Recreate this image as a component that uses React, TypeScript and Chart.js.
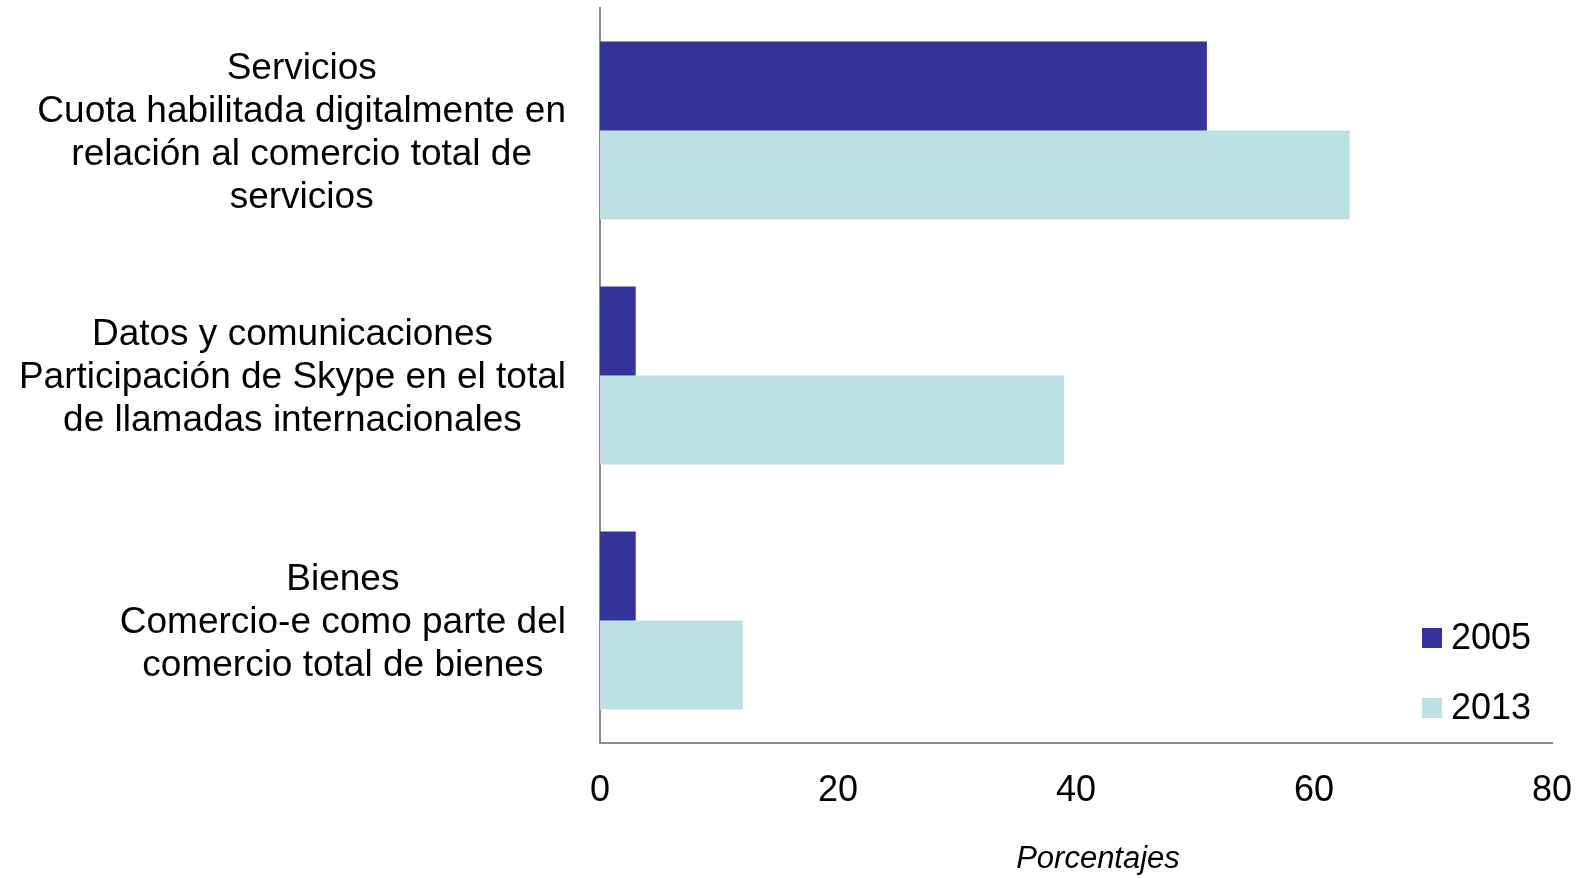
import React, { useEffect, useRef } from "react";
import { Chart, registerables } from "chart.js";

Chart.register(...registerables);

const categoryLines: string[][] = [
  ["Servicios", "Cuota habilitada digitalmente en", "relación al comercio total de", "servicios"],
  ["Datos y comunicaciones", "Participación de Skype en el total", "de llamadas internacionales"],
  ["Bienes", "Comercio-e como parte del", "comercio total de bienes"],
];
const categories: string[] = ["Servicios", "Datos y comunicaciones", "Bienes"];
const series2005: number[] = [51, 3, 3];
const series2013: number[] = [63, 39, 12];
const seriesNames: string[] = ["2005", "2013"];
const seriesColors: string[] = ["#343399", "#BCE0E3"];
const xTicks: number[] = [0, 20, 40, 60, 80];
const axisTitle = "Porcentajes";

const FONT = '"Liberation Sans", Arial, sans-serif';

const customPlugin = {
  id: "customDecor",
  afterDraw(chart: any) {
    const ctx = chart.ctx;
    const area = chart.chartArea;
    const yScale = chart.scales.y;
    ctx.save();
    ctx.fillStyle = "#000";
    // category labels
    ctx.font = `37px ${FONT}`;
    ctx.textAlign = "center";
    ctx.textBaseline = "middle";
    const lineH = 42.9;
    const rightEdge = area.left - 34;
    categoryLines.forEach((lines, i) => {
      const cy = yScale.getPixelForValue(i) + 2.5;
      let maxW = 0;
      lines.forEach((l) => {
        maxW = Math.max(maxW, ctx.measureText(l).width);
      });
      const cx = rightEdge - maxW / 2;
      lines.forEach((l, j) => {
        ctx.fillText(l, cx, cy + (j - (lines.length - 1) / 2) * lineH);
      });
    });
    // legend
    ctx.font = `36px ${FONT}`;
    ctx.textAlign = "left";
    seriesNames.forEach((name, i) => {
      const by = area.bottom - 115 + i * 70;
      const bx = area.right - 130;
      ctx.fillStyle = seriesColors[i];
      ctx.fillRect(bx, by, 20, 20);
      ctx.fillStyle = "#000";
      ctx.fillText(name, bx + 29, by + 11);
    });
    // axis title
    ctx.font = `italic 31px ${FONT}`;
    ctx.textAlign = "center";
    ctx.fillText(axisTitle, (area.left + area.right) / 2 + 22, area.bottom + 116);
    ctx.restore();
  },
};

export default function App() {
  const canvasRef = useRef<HTMLCanvasElement | null>(null);

  useEffect(() => {
    if (!canvasRef.current) return;
    const chart = new Chart(canvasRef.current, {
      type: "bar",
      data: {
        labels: categories,
        datasets: [
          {
            label: seriesNames[0],
            data: series2005,
            backgroundColor: seriesColors[0],
            borderWidth: 0,
          },
          {
            label: seriesNames[1],
            data: series2013,
            backgroundColor: seriesColors[1],
            borderWidth: 0,
          },
        ],
      },
      options: {
        indexAxis: "y",
        animation: false,
        responsive: true,
        maintainAspectRatio: false,
        datasets: {
          bar: { categoryPercentage: 0.727, barPercentage: 1.0 },
        },
        layout: { padding: { left: 600, right: 37, top: 8, bottom: 0 } },
        plugins: {
          legend: { display: false },
          tooltip: { enabled: false },
          title: { display: false },
        },
        scales: {
          x: {
            min: 0,
            max: 80,
            afterBuildTicks: (scale: any) => {
              scale.ticks = xTicks.map((v) => ({ value: v }));
            },
            afterFit: (scale: any) => {
              scale.height = 135;
            },
            grid: { display: false, drawTicks: false },
            border: { display: true, color: "#8c8c8c", width: 2 },
            ticks: {
              color: "#000",
              padding: 10,
              font: { family: FONT, size: 36, lineHeight: 2.09 },
              maxRotation: 0,
            },
          },
          y: {
            type: "category",
            afterFit: (scale: any) => {
              scale.width = 0;
            },
            grid: { display: false, drawTicks: false },
            border: { display: true, color: "#8c8c8c", width: 2 },
            ticks: { display: false },
          },
        },
      },
      plugins: [customPlugin],
    });
    return () => chart.destroy();
  }, []);

  return (
    <div style={{ position: "fixed", left: 0, top: 0, width: 1589, height: 878, background: "#fff" }}>
      <canvas ref={canvasRef} />
    </div>
  );
}
